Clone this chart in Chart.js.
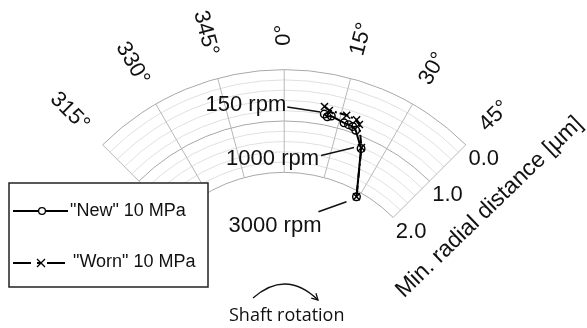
<!DOCTYPE html>
<html>
<head>
<meta charset="utf-8">
<script src="https://cdn.jsdelivr.net/npm/chart.js@4/dist/chart.umd.min.js"></script>
<style>
  html, body { margin: 0; padding: 0; background: #ffffff; }
  canvas { display: block; }
</style>
</head>
<body>
<canvas id="c" width="587" height="328"></canvas>
<script>
// Angular ticks (degrees, clockwise from top) and their labels
const angleTicks = [315, 330, 345, 0, 15, 30, 45];
const angleLabels = ['315°', '330°', '345°', '0°', '15°', '30°', '45°'];

// Radial ticks: minimum radial distance in µm (0.0 on the outer ring)
const gapGrid = [0.0, 0.2, 0.4, 0.6, 0.8, 1.0, 1.2, 1.4, 1.6, 1.8, 2.0];
const gapTicks = [0.0, 1.0, 2.0];
const gapLabels = ['0.0', '1.0', '2.0'];

// "New" bearing, 10 MPa: attitude angle [deg] and min. radial distance [µm]
const newAngle = [10.5, 11.4, 12.4, 16.1, 17.4, 18.6, 19.7, 23.0, 28.7];
const newGap   = [0.72, 0.76, 0.73, 0.80, 0.81, 0.82, 0.87, 1.17, 2.07];

// "Worn" bearing, 10 MPa
const wornAngle = [10.2, 11.6, 16.2, 19.0, 20.1, 23.0, 28.7];
const wornGap   = [0.57, 0.63, 0.64, 0.67, 0.74, 1.15, 2.07];

// Shaft speed callouts (index into the "New" series)
const speedLabels = ['150 rpm', '1000 rpm', '3000 rpm'];
const speedIndex  = [0, 7, 8];

const seriesNames = ['"New" 10 MPa', '"Worn" 10 MPa'];
const axisTitle = 'Min. radial distance [µm]';
const rotationNote = 'Shaft rotation';

// radius unit of the 0.0 µm ring; the 2.0 µm ring sits at GAP_OFFSET - 2
const GAP_OFFSET = 5;
const PX_PER_UNIT = 52.5;
const CENTER = { x: 284, y: 333 };

function toXY(deg, gap) {
  const r = GAP_OFFSET - gap;
  const a = deg * Math.PI / 180;
  return { x: r * Math.sin(a), y: r * Math.cos(a) };
}
function signedDeg(d) { return d > 180 ? d - 360 : d; }

const newPoints = newAngle.map((a, i) => toXY(a, newGap[i]));
const wornPoints = wornAngle.map((a, i) => toXY(a, wornGap[i]));

const W = 587, H = 328;
const FONT = '"Liberation Sans", Arial, sans-serif';
const WORN_DASH = [9, 3, 2, 3];

const polarFrame = {
  id: 'polarFrame',
  beforeDatasetsDraw(chart) {
    const ctx = chart.ctx;
    const xs = chart.scales.x, ys = chart.scales.y;
    const cx = xs.getPixelForValue(0), cy = ys.getPixelForValue(0);
    const rad = g => xs.getPixelForValue(GAP_OFFSET - g) - cx;
    const lo = signedDeg(angleTicks[0]), hi = signedDeg(angleTicks[angleTicks.length - 1]);
    const a0 = (lo - 90) * Math.PI / 180, a1 = (hi - 90) * Math.PI / 180;
    ctx.save();
    // rings
    gapGrid.forEach(g => {
      const major = Math.abs(g) < 1e-6 || Math.abs(g - 1) < 1e-6 || Math.abs(g - 2) < 1e-6;
      ctx.strokeStyle = major ? '#a8a8a8' : '#e0e0e0';
      ctx.lineWidth = 1;
      ctx.beginPath();
      ctx.arc(cx, cy, rad(g), a0, a1);
      ctx.stroke();
    });
    // spokes
    ctx.strokeStyle = '#b8b8b8';
    angleTicks.forEach(d => {
      const a = (signedDeg(d) - 90) * Math.PI / 180;
      const rIn = rad(2), rOut = rad(0);
      ctx.beginPath();
      ctx.moveTo(cx + rIn * Math.cos(a), cy + rIn * Math.sin(a));
      ctx.lineTo(cx + rOut * Math.cos(a), cy + rOut * Math.sin(a));
      ctx.stroke();
    });
    // angle labels
    ctx.fillStyle = '#111';
    ctx.font = '22px ' + FONT;
    ctx.textBaseline = 'middle';
    const rLab = rad(0) + 24;
    angleTicks.forEach((d, i) => {
      const s = signedDeg(d);
      const a = (s - 90) * Math.PI / 180;
      const px = cx + rLab * Math.cos(a), py = cy + rLab * Math.sin(a);
      ctx.save();
      ctx.translate(px, py);
      if (s >= 0) {
        ctx.rotate((s - 90) * Math.PI / 180);
        ctx.textAlign = 'left';
      } else {
        ctx.rotate((s + 90) * Math.PI / 180);
        ctx.textAlign = 'right';
      }
      ctx.fillText(angleLabels[i], 0, 0);
      ctx.restore();
    });
    // radial tick labels beyond the 45° edge
    ctx.textAlign = 'center';
    const ea = (hi - 90) * Math.PI / 180;
    gapTicks.forEach((g, i) => {
      const r = rad(g);
      const px = cx + r * Math.cos(ea), py = cy + r * Math.sin(ea);
      ctx.fillText(gapLabels[i], px + 18, py + 14);
    });
    // radial axis title
    ctx.save();
    ctx.font = '23px ' + FONT;
    ctx.translate(cx + rad(1) * Math.cos(ea) + 60, cy + rad(1) * Math.sin(ea) + 26);
    ctx.rotate(-44 * Math.PI / 180);
    ctx.fillText(axisTitle, 0, 0);
    ctx.restore();
    ctx.restore();
  },
  afterDatasetsDraw(chart) {
    const ctx = chart.ctx;
    ctx.save();
    // speed callouts
    const meta = chart.getDatasetMeta(0);
    const callouts = [
      { text: [-38, -9], s: [-37, -7], e: [-4, -2] },
      { text: [-42, 10], s: [-40, 7], e: [-7, -1] },
      { text: [-35, 29], s: [-38, 15], e: [-10, 5] }
    ];
    ctx.font = '22px ' + FONT;
    ctx.fillStyle = '#111';
    ctx.strokeStyle = '#111';
    ctx.lineWidth = 1.5;
    ctx.textAlign = 'right';
    ctx.textBaseline = 'middle';
    speedLabels.forEach((t, i) => {
      const p = meta.data[speedIndex[i]];
      const c = callouts[i];
      ctx.beginPath();
      ctx.moveTo(p.x + c.s[0], p.y + c.s[1]);
      ctx.lineTo(p.x + c.e[0], p.y + c.e[1]);
      ctx.stroke();
      ctx.fillText(t, p.x + c.text[0], p.y + c.text[1]);
    });

    // legend box
    ctx.fillStyle = '#fff';
    ctx.fillRect(9, 183, 199, 104);
    ctx.strokeStyle = '#222';
    ctx.lineWidth = 1.5;
    ctx.strokeRect(9, 183, 199, 104);
    ctx.strokeStyle = '#000';
    ctx.lineWidth = 2;
    // "New" sample
    ctx.beginPath(); ctx.moveTo(13, 211); ctx.lineTo(68, 211); ctx.stroke();
    ctx.lineWidth = 1.3;
    ctx.beginPath(); ctx.arc(42, 211, 3.4, 0, Math.PI * 2); ctx.fillStyle = '#fff'; ctx.fill(); ctx.stroke();
    // "Worn" sample
    ctx.lineWidth = 2;
    ctx.setLineDash(WORN_DASH.map(v => v * 2));
    ctx.beginPath(); ctx.moveTo(13, 263); ctx.lineTo(70, 263); ctx.stroke();
    ctx.setLineDash([]);
    ctx.lineWidth = 1.3;
    ctx.beginPath();
    ctx.moveTo(37, 259); ctx.lineTo(45, 267);
    ctx.moveTo(45, 259); ctx.lineTo(37, 267);
    ctx.stroke();
    ctx.fillStyle = '#111';
    ctx.font = '18px ' + FONT;
    ctx.textAlign = 'left';
    ctx.fillText(seriesNames[0], 70, 211);
    ctx.fillText(seriesNames[1], 73, 262);

    // shaft rotation arrow
    ctx.strokeStyle = '#111';
    ctx.lineWidth = 1.3;
    ctx.beginPath();
    ctx.moveTo(253, 298);
    ctx.quadraticCurveTo(286, 269, 318, 300);
    ctx.stroke();
    const ang = Math.atan2(300 - 269, 318 - 286);
    ctx.beginPath();
    ctx.moveTo(318 - 7 * Math.cos(ang - 0.5), 300 - 7 * Math.sin(ang - 0.5));
    ctx.lineTo(318, 300);
    ctx.lineTo(318 - 7 * Math.cos(ang + 0.5), 300 - 7 * Math.sin(ang + 0.5));
    ctx.stroke();
    ctx.font = '18px "Open Sans", "Noto Sans", sans-serif';
    ctx.textAlign = 'left';
    ctx.textBaseline = 'alphabetic';
    ctx.fillText(rotationNote, 229, 321);
    ctx.restore();
  }
};

new Chart(document.getElementById('c'), {
  type: 'scatter',
  data: {
    datasets: [
      {
        label: seriesNames[0],
        data: newPoints,
        showLine: true,
        borderColor: '#000',
        borderWidth: 2,
        pointStyle: 'circle',
        pointRadius: 3.8,
        pointBorderWidth: 1.4,
        pointBorderColor: '#000',
        pointBackgroundColor: 'rgba(0,0,0,0)',
        tension: 0
      },
      {
        label: seriesNames[1],
        data: wornPoints,
        showLine: true,
        borderColor: '#000',
        borderWidth: 2,
        borderDash: WORN_DASH,
        pointStyle: 'crossRot',
        pointRadius: 5,
        pointBorderWidth: 1.4,
        pointBorderColor: '#000',
        tension: 0
      }
    ]
  },
  options: {
    responsive: false,
    animation: false,
    layout: { padding: 0 },
    plugins: { legend: { display: false }, tooltip: { enabled: false } },
    scales: {
      x: { type: 'linear', display: false, min: -CENTER.x / PX_PER_UNIT, max: (W - CENTER.x) / PX_PER_UNIT },
      y: { type: 'linear', display: false, min: (CENTER.y - H) / PX_PER_UNIT, max: CENTER.y / PX_PER_UNIT }
    }
  },
  plugins: [polarFrame]
});
</script>
</body>
</html>
